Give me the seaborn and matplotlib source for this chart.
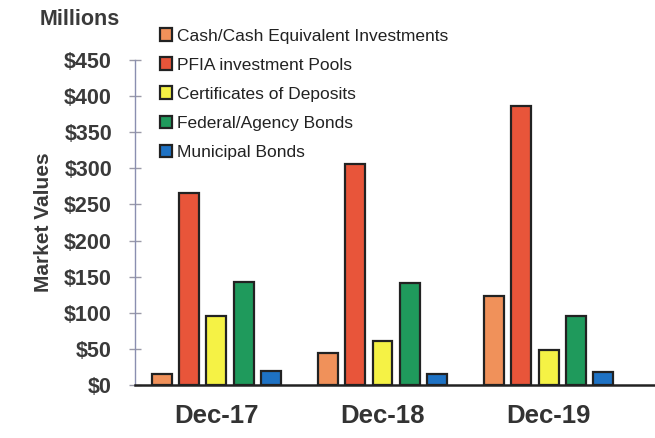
import pandas as pd
import matplotlib
matplotlib.use("Agg")
import matplotlib.pyplot as plt
import seaborn as sns

periods = ["Dec-17", "Dec-18", "Dec-19"]
categories = ["Cash/Cash Equivalent Investments", "PFIA investment Pools",
              "Certificates of Deposits", "Federal/Agency Bonds", "Municipal Bonds"]
cash = [15, 44, 123]
pfia = [266, 306, 386]
cds = [96, 61, 48]
federal = [143, 141, 96]
municipal = [19, 15, 18]
colors = ["#F0915A", "#E8553A", "#F5F245", "#1F9A5C", "#1E72C4"]
yticks = [0, 50, 100, 150, 200, 250, 300, 350, 400, 450]


def main():
    series = [cash, pfia, cds, federal, municipal]
    rows = []
    for cat, vals in zip(categories, series):
        for p, v in zip(periods, vals):
            rows.append({"period": p, "category": cat, "value": v})
    df = pd.DataFrame(rows)

    sns.set_style("white")
    plt.rcParams["font.family"] = ["Liberation Sans", "DejaVu Sans"]

    fig = plt.figure(figsize=(6.55, 4.38), dpi=100)
    ax = fig.add_axes([0.206, 0.121, 0.794, 0.742])

    sns.barplot(data=df, x="period", y="value", hue="category", order=periods,
                hue_order=categories, palette=colors, width=0.82, gap=0.27,
                edgecolor="#222222", linewidth=1.6, saturation=1, ax=ax)

    ax.set_ylim(0, 450)
    ax.set_xlim(-0.49, 2.64)
    ax.set_yticks(yticks)
    ax.set_yticklabels(["$%d" % t for t in yticks], fontsize=15.5,
                       fontweight="bold", color="#3a3a3a")
    ax.tick_params(axis="y", left=True, direction="inout", length=9,
                   color="#9a9aa8", width=1, pad=12)
    ax.tick_params(axis="x", length=0, labelsize=18.5, pad=14)
    for lab in ax.get_xticklabels():
        lab.set_fontweight("bold")
        lab.set_color("#333333")
    ax.set_xlabel("")
    ax.set_ylabel("Market Values", fontsize=15, fontweight="bold",
                  color="#3a3a3a", labelpad=8)

    for side in ["top", "right"]:
        ax.spines[side].set_visible(False)
    ax.spines["left"].set_color("#8a8fb0")
    ax.spines["left"].set_linewidth(1)
    ax.spines["bottom"].set_color("#222222")
    ax.spines["bottom"].set_linewidth(1.8)

    fig.text(0.06, 0.955, "Millions", fontsize=15.5, fontweight="bold",
             color="#3a3a3a", va="center")

    handles, labels = ax.get_legend_handles_labels()
    ax.legend(handles, labels, loc="upper left", bbox_to_anchor=(0.233, 0.951),
              bbox_transform=fig.transFigure, frameon=False, fontsize=12.5,
              handlelength=0.7, handleheight=0.7, handletextpad=0.3,
              labelspacing=0.8, borderaxespad=0, labelcolor="#222222")

    fig.savefig("out.png", dpi=100)


if __name__ == "__main__":
    main()
